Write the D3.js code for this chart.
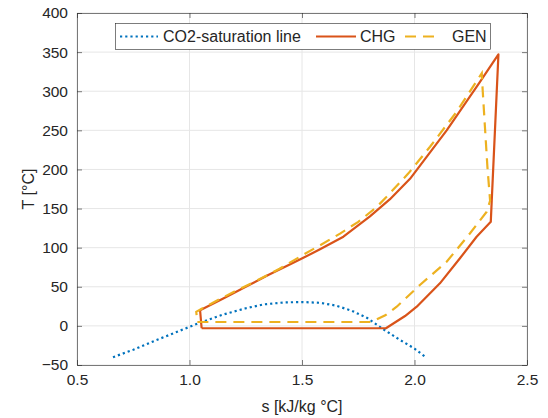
<!DOCTYPE html>
<html>
<head>
<meta charset="utf-8">
<script src="https://cdn.jsdelivr.net/npm/d3@7"></script>
<style>
  body { margin: 0; background: #fff; }
  text { font-family: "Liberation Sans", Arial, sans-serif; fill: #262626; }
</style>
</head>
<body>
<svg id="chart" width="548" height="418"></svg>
<script>
// CO2 saturation dome
const satS = [0.66, 0.75, 0.85, 0.95, 1.05, 1.15, 1.25, 1.33, 1.42, 1.5, 1.58, 1.65, 1.72, 1.79, 1.86, 1.93, 2.0, 2.05];
const satT = [-40, -30.5, -18.5, -7, 4.5, 14.5, 22.5, 27.5, 30, 30.5, 29.5, 26, 19.5, 10, -4, -17, -29, -40];

// CHG cycle
const chgS = [1.054, 1.873, 1.958, 2.01, 2.113, 2.202, 2.276, 2.339, 2.373, 2.291, 2.143, 1.98, 1.891, 1.802, 1.684, 1.58, 1.506, 1.45, 1.35, 1.25, 1.15, 1.047, 1.054];
const chgT = [-3, -3, 12.6, 24.5, 54.4, 86.4, 114, 133, 347, 312, 250, 188, 162, 140, 114, 98, 87, 79, 65, 50, 35, 20, -3];

// GEN cycle
const genS = [1.035, 1.80, 1.83, 1.87, 1.921, 2.024, 2.143, 2.247, 2.321, 2.336, 2.324, 2.313, 2.303, 2.299, 2.188, 2.069, 1.973, 1.876, 1.832, 1.75, 1.669, 1.58, 1.5, 1.4, 1.3, 1.2, 1.1, 1.03, 1.035];
const genT = [5, 5, 8, 13.5, 24.5, 52.3, 82, 118.4, 146, 160, 203.5, 254.6, 301.5, 323, 274, 229, 195, 165, 152, 133, 118, 103, 90, 73, 58, 44, 29, 18, 5];

const xTicks = [0.5, 1.0, 1.5, 2.0, 2.5];
const yTicks = [-50, 0, 50, 100, 150, 200, 250, 300, 350, 400];

const svg = d3.select("#chart");
const mLeft = 77, mRight = 527, mTop = 13, mBottom = 365;

const x = d3.scaleLinear().domain([0.5, 2.5]).range([mLeft, mRight]);
const y = d3.scaleLinear().domain([-50, 400]).range([mBottom, mTop]);

// grid
const grid = svg.append("g").attr("stroke", "#e6e6e6").attr("stroke-width", 1);
grid.selectAll(".gx").data(xTicks).enter().append("line")
    .attr("x1", d => x(d)).attr("x2", d => x(d))
    .attr("y1", mTop).attr("y2", mBottom);
grid.selectAll(".gy").data(yTicks).enter().append("line")
    .attr("y1", d => y(d)).attr("y2", d => y(d))
    .attr("x1", mLeft).attr("x2", mRight);

// axes (box with inward ticks)
const axisColor = "#262626";
const xAxis = svg.append("g").attr("transform", `translate(0,${mBottom})`)
    .call(d3.axisBottom(x).tickValues(xTicks).tickFormat(d3.format(".1f")).tickSizeInner(-5).tickSizeOuter(0).tickPadding(9));
const xTop = svg.append("g").attr("transform", `translate(0,${mTop})`)
    .call(d3.axisTop(x).tickValues(xTicks).tickFormat("").tickSizeInner(-5).tickSizeOuter(0));
const yAxis = svg.append("g").attr("transform", `translate(${mLeft},0)`)
    .call(d3.axisLeft(y).tickValues(yTicks).tickSizeInner(-5).tickSizeOuter(0).tickPadding(9));
const yRight = svg.append("g").attr("transform", `translate(${mRight},0)`)
    .call(d3.axisRight(y).tickValues(yTicks).tickFormat("").tickSizeInner(-5).tickSizeOuter(0));

[xAxis, xTop, yAxis, yRight].forEach(a => {
    a.selectAll("path, line").attr("stroke", axisColor).attr("stroke-width", 0.6);
    a.selectAll("text").attr("font-size", "15.5px").attr("fill", axisColor)
        .attr("font-family", "Liberation Sans, Arial, sans-serif");
});

// axis titles
svg.append("text").attr("x", (mLeft + mRight) / 2).attr("y", 412)
    .attr("text-anchor", "middle").attr("font-size", "16px").text("s [kJ/kg °C]");
svg.append("text").attr("transform", `translate(34,${(mTop + mBottom) / 2}) rotate(-90)`)
    .attr("text-anchor", "middle").attr("font-size", "16px").text("T [°C]");

// lines
const line = d3.line().x(d => x(d[0])).y(d => y(d[1]));
const plot = svg.append("g");

plot.append("path").datum(d3.zip(satS, satT))
    .attr("d", line).attr("fill", "none")
    .attr("stroke", "#0072BD").attr("stroke-width", 2.2)
    .attr("stroke-dasharray", "2.2,3");

plot.append("path").datum(d3.zip(chgS, chgT))
    .attr("d", line).attr("fill", "none")
    .attr("stroke", "#D95319").attr("stroke-width", 2.2)
    .attr("stroke-linejoin", "round");

plot.append("path").datum(d3.zip(genS, genT))
    .attr("d", line).attr("fill", "none")
    .attr("stroke", "#EDB120").attr("stroke-width", 2.2)
    .attr("stroke-dasharray", "11,7");

// legend
const lg = svg.append("g");
lg.append("rect").attr("x", 115.5).attr("y", 23.5).attr("width", 375).attr("height", 26)
    .attr("fill", "#fff").attr("stroke", axisColor).attr("stroke-width", 0.6);
const items = [
    { label: "CO2-saturation line", color: "#0072BD", dash: "2.2,3", x1: 120, x2: 158, tx: 163 },
    { label: "CHG", color: "#D95319", dash: null, x1: 316, x2: 356, tx: 360 },
    { label: "GEN", color: "#EDB120", dash: "11,7", x1: 405, x2: 439, tx: 452 }
];
items.forEach(it => {
    lg.append("line").attr("x1", it.x1).attr("x2", it.x2).attr("y1", 36.5).attr("y2", 36.5)
        .attr("stroke", it.color).attr("stroke-width", 2.2)
        .attr("stroke-dasharray", it.dash);
    lg.append("text").attr("x", it.tx).attr("y", 42).attr("font-size", "16px").text(it.label);
});
</script>
</body>
</html>
